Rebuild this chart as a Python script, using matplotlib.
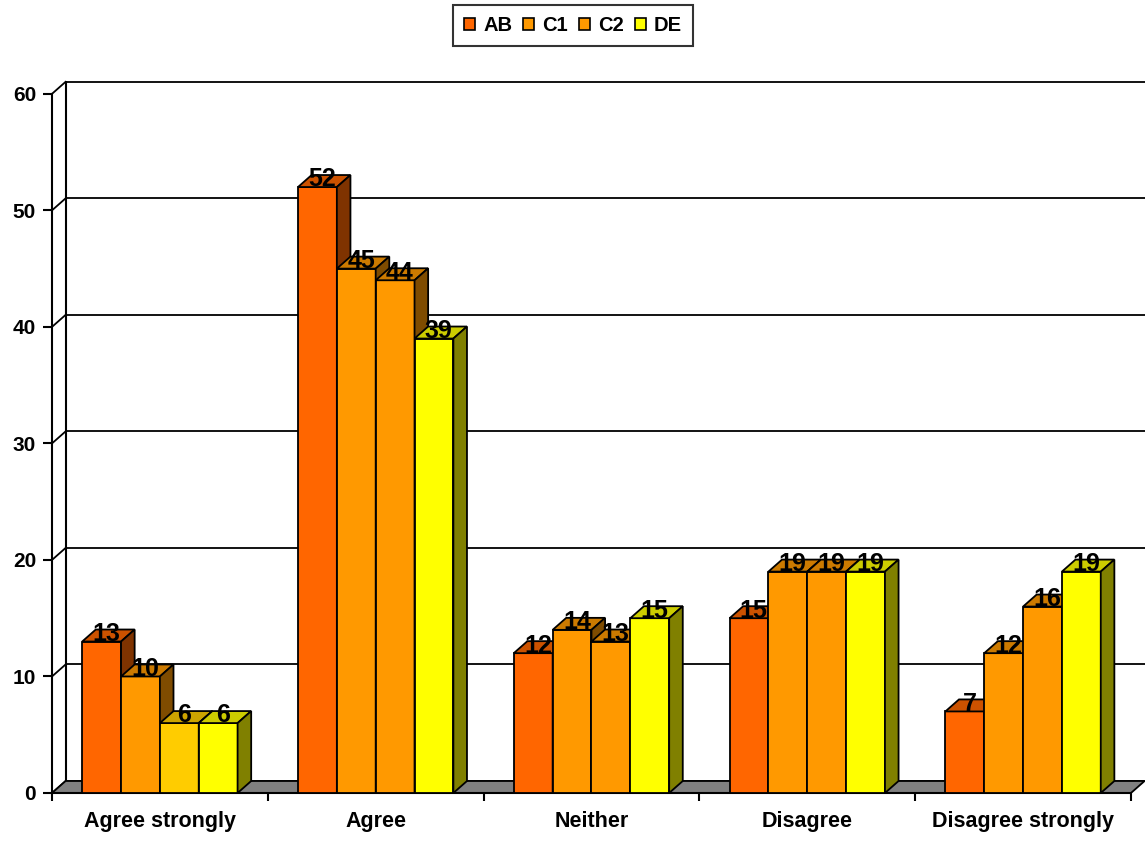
import matplotlib
matplotlib.use("Agg")
import matplotlib.pyplot as plt
from matplotlib.patches import Polygon, Patch

plt.rcParams['font.family'] = ['Liberation Sans', 'DejaVu Sans']

# data
categories = ["Agree strongly", "Agree", "Neither", "Disagree", "Disagree strongly"]
series = ["AB", "C1", "C2", "DE"]
ab = [13, 52, 12, 15, 7]
c1 = [10, 45, 14, 19, 12]
c2 = [6, 44, 13, 19, 16]
de = [6, 39, 15, 19, 19]
values = [ab, c1, c2, de]

# front, top, side colours of each series
front_cols = ["#FF6600", "#FF9900", "#FF9900", "#FFFF00"]
top_cols = ["#CC5200", "#CC7A00", "#CC7A00", "#CCCC00"]
side_cols = ["#7F3300", "#7F4C00", "#7F4C00", "#808000"]
# one point in the sheet had its own colour
special = {(2, 0): ("#FFCC00", "#CCA300", "#806600")}

yticks = [0, 10, 20, 30, 40, 50, 60]

dx = 0.063   # depth offset in x (category units)
dy = 1.03    # depth offset in y (value units)
bar_w = 0.18
offset = 0.14

fig = plt.figure(figsize=(11.45, 8.41), dpi=100)
ax = fig.add_axes([52 / 1145, 48 / 841, 1093 / 1145, 712 / 841])
ax.set_xlim(0, 5.065)
ax.set_ylim(0, 61.1)

# walls and floor
for v in yticks:
    ax.plot([dx, 5.065], [v + dy, v + dy], color="black", lw=1.3, zorder=2, clip_on=False)
    ax.plot([0, dx], [v, v + dy], color="black", lw=1.3, zorder=2, clip_on=False)
ax.plot([dx, dx], [dy, 60 + dy], color="black", lw=1.5, zorder=2)
floor = Polygon([(0, 0), (5, 0), (5 + dx, dy), (dx, dy)], closed=True,
                facecolor="#808080", edgecolor="black", lw=1.3, zorder=3)
ax.add_patch(floor)

# bars
for i in range(len(categories)):
    for j in range(len(series)):
        v = values[j][i]
        fc, tc, sc = special.get((j, i), (front_cols[j], top_cols[j], side_cols[j]))
        x0 = i + offset + j * bar_w
        base = 10 + j * 3
        b = ax.bar(x0, v, width=bar_w, align="edge", color=fc,
                   edgecolor="black", linewidth=1.3, zorder=base)
        top = Polygon([(x0, v), (x0 + bar_w, v), (x0 + bar_w + dx, v + dy), (x0 + dx, v + dy)],
                      closed=True, facecolor=tc, edgecolor="black", lw=1.3, zorder=base + 1)
        side = Polygon([(x0 + bar_w, 0), (x0 + bar_w + dx, dy), (x0 + bar_w + dx, v + dy), (x0 + bar_w, v)],
                       closed=True, facecolor=sc, edgecolor="black", lw=1.3, zorder=base + 1)
        ax.add_patch(top)
        ax.add_patch(side)
        ax.text(x0 + bar_w / 2 + dx * 0.35, v + 0.05, str(v), ha="center", va="baseline",
                fontsize=18, fontweight="bold", color="black", zorder=40)

# axes
for s in ["top", "right"]:
    ax.spines[s].set_visible(False)
ax.spines["left"].set_bounds(0, 60)
ax.spines["bottom"].set_bounds(0, 5)
ax.spines["left"].set_linewidth(1.5)
ax.spines["bottom"].set_linewidth(1.5)
ax.spines["left"].set_zorder(5)
ax.spines["bottom"].set_zorder(5)
ax.set_yticks(yticks)
ax.set_yticklabels([str(t) for t in yticks], fontsize=15, fontweight="bold")
ax.tick_params(axis="y", length=6.5, width=1.5, pad=5)
ax.set_xticks(range(6))
ax.set_xticklabels([])
ax.tick_params(axis="x", which="major", length=6, width=1.5)
ax.set_xticks([i + 0.5 for i in range(5)], minor=True)
ax.set_xticklabels(categories, minor=True, fontsize=15.5, fontweight="bold")
ax.tick_params(axis="x", which="minor", length=0, pad=13)

handles = [Patch(facecolor=front_cols[j], edgecolor="black", lw=1.2) for j in range(4)]
leg = fig.legend(handles, series, loc="upper center", bbox_to_anchor=(573 / 1145, 1 - 5 / 841),
                 ncol=4, frameon=True, fancybox=False, handlelength=0.55, handleheight=0.55,
                 handletextpad=0.4, columnspacing=0.55, borderpad=0.55, borderaxespad=0,
                 prop={"weight": "bold", "size": 14.5})
leg.get_frame().set_edgecolor("black")
leg.get_frame().set_linewidth(1.5)

fig.savefig("out.png", dpi=100)
